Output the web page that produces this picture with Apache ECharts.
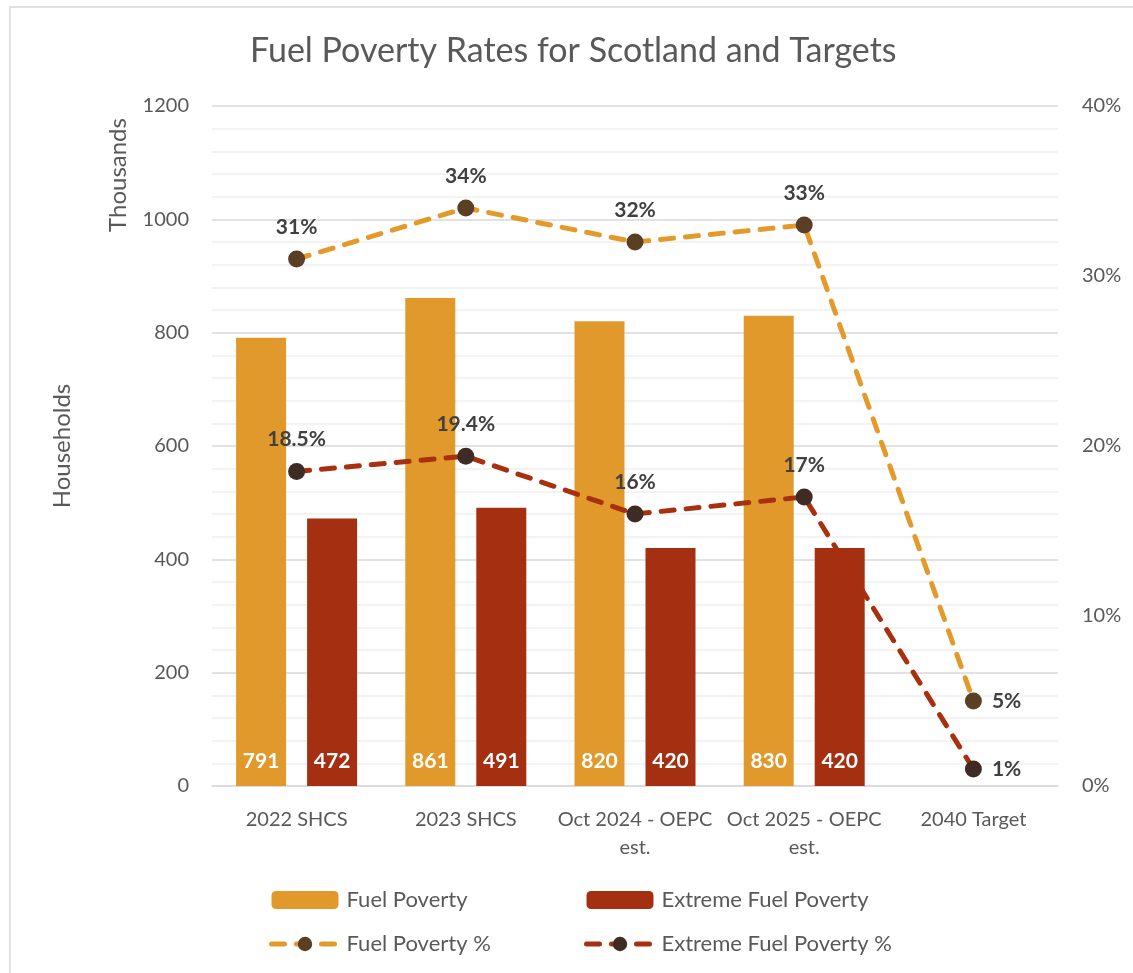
<!DOCTYPE html>
<html>
<head>
<meta charset="utf-8">
<script src="https://cdn.jsdelivr.net/npm/echarts@6/dist/echarts.min.js"></script>
<style>
  html, body { margin: 0; padding: 0; background: #fff; }
  #chart { width: 1133px; height: 973px; }
</style>
</head>
<body>
<div id="chart"></div>
<script>
// Categories and values (households in thousands, rates as fractions)
const categories = ['2022 SHCS', '2023 SHCS', 'Oct 2024 - OEPC\nest.', 'Oct 2025 - OEPC\nest.', '2040 Target'];
const fuelPoverty = [791, 861, 820, 830, null];
const extremeFuelPoverty = [472, 491, 420, 420, null];
const fuelPovertyRate = [0.31, 0.34, 0.32, 0.33, 0.05];
const extremeFuelPovertyRate = [0.185, 0.194, 0.16, 0.17, 0.01];
const leftTicks = [0, 200, 400, 600, 800, 1000, 1200];
const rightTicks = [0, 0.1, 0.2, 0.3, 0.4];

const FONT = 'Lato, "Open Sans", sans-serif';
const TEXT = '#595959';

function pct(v) {
  let s = (v * 100).toFixed(1);
  if (s.endsWith('.0')) s = s.slice(0, -2);
  return s + '%';
}

// Last point of each rate line gets its label on the right
function rateData(arr) {
  return arr.map((v, i) => i === arr.length - 1
    ? { value: v, label: { position: 'right', distance: 10 } }
    : v);
}

const legendText = { fontFamily: FONT, fontSize: 22, color: TEXT, padding: [0, 0, 0, 3] };
const FP_LINE = '#e39a2a';
const EFP_LINE = '#a9300f';

const chart = echarts.init(document.getElementById('chart'));
chart.setOption({
  animation: false,
  textStyle: { fontFamily: FONT },
  title: {
    text: 'Fuel Poverty Rates for Scotland and Targets',
    left: 250,
    top: 34,
    padding: 0,
    textStyle: { fontFamily: FONT, fontSize: 34, fontWeight: 'normal', color: TEXT }
  },
  grid: { left: 212, right: 75, top: 106, bottom: 187 },
  legend: [
    {
      data: [
        { name: 'Fuel Poverty' },
        { name: 'Fuel Poverty %', lineStyle: { width: 5 } }
      ],
      orient: 'vertical',
      left: 269, top: 889, padding: 0,
      itemWidth: 67, itemHeight: 18, itemGap: 22,
      textStyle: legendText
    },
    {
      data: [
        { name: 'Extreme Fuel Poverty' },
        { name: 'Extreme Fuel Poverty %', lineStyle: { width: 5 } }
      ],
      orient: 'vertical',
      left: 584, top: 889, padding: 0,
      itemWidth: 67, itemHeight: 18, itemGap: 22,
      textStyle: legendText
    }
  ],
  xAxis: {
    type: 'category',
    data: categories,
    boundaryGap: true,
    axisLine: { lineStyle: { color: '#d9d9d9', width: 1.5 } },
    axisTick: { show: false },
    axisLabel: { color: TEXT, fontSize: 20, margin: 20, lineHeight: 28, fontFamily: FONT, interval: 0 }
  },
  yAxis: [
    {
      type: 'value',
      min: leftTicks[0], max: leftTicks[leftTicks.length - 1], interval: 200,
      name: 'Households',
      nameLocation: 'middle',
      nameGap: 138,
      nameRotate: 90,
      nameTextStyle: { color: TEXT, fontSize: 24, fontFamily: FONT },
      axisLine: { show: false },
      axisTick: { show: false },
      axisLabel: { color: TEXT, fontSize: 20, margin: 23, fontFamily: FONT, formatter: v => String(v) },
      splitLine: { lineStyle: { color: '#d9d9d9', width: 1.5 } },
      minorTick: { show: false, splitNumber: 5 },
      minorSplitLine: { show: true, lineStyle: { color: '#f0f0f0', width: 1.5 } }
    },
    {
      type: 'value',
      min: rightTicks[0], max: rightTicks[rightTicks.length - 1], interval: 0.1,
      position: 'right',
      axisLine: { show: false },
      axisTick: { show: false },
      splitLine: { show: false },
      axisLabel: { color: TEXT, fontSize: 20, margin: 24, fontFamily: FONT, formatter: v => Math.round(v * 100) + '%' }
    }
  ],
  series: [
    {
      name: 'Fuel Poverty',
      type: 'bar',
      data: fuelPoverty,
      barWidth: 50,
      barGap: '42%',
      itemStyle: { color: '#e0992a' },
      label: {
        show: true, position: 'insideBottom', distance: 14,
        color: '#fff', fontWeight: 'bold', fontSize: 21, fontFamily: FONT
      },
      z: 2
    },
    {
      name: 'Extreme Fuel Poverty',
      type: 'bar',
      data: extremeFuelPoverty,
      barWidth: 50,
      itemStyle: { color: '#a52f11' },
      label: {
        show: true, position: 'insideBottom', distance: 14,
        color: '#fff', fontWeight: 'bold', fontSize: 21, fontFamily: FONT
      },
      z: 2
    },
    {
      name: 'Fuel Poverty %',
      type: 'line',
      yAxisIndex: 1,
      data: rateData(fuelPovertyRate),
      symbol: 'circle',
      symbolSize: 17,
      lineStyle: { color: FP_LINE, width: 5, type: [13, 12], cap: 'round' },
      itemStyle: { color: '#5b3f25' },
      label: {
        show: true, position: 'top', distance: 13,
        color: '#404040', fontWeight: 'bold', fontSize: 21, fontFamily: FONT,
        formatter: p => pct(p.value)
      },
      z: 5
    },
    {
      name: 'Extreme Fuel Poverty %',
      type: 'line',
      yAxisIndex: 1,
      data: rateData(extremeFuelPovertyRate),
      symbol: 'circle',
      symbolSize: 17,
      lineStyle: { color: EFP_LINE, width: 5, type: [13, 12], cap: 'round' },
      itemStyle: { color: '#3e2b23' },
      label: {
        show: true, position: 'top', distance: 13,
        color: '#404040', fontWeight: 'bold', fontSize: 21, fontFamily: FONT,
        formatter: p => pct(p.value)
      },
      z: 5
    }
  ],
  graphic: [
    {
      type: 'rect',
      shape: { x: 10, y: 7, width: 1200, height: 1100 },
      style: { fill: 'none', stroke: '#d9d9d9', lineWidth: 1.5 },
      silent: true
    },
    {
      type: 'text',
      x: 118, y: 175,
      rotation: Math.PI / 2,
      style: {
        text: 'Thousands', fill: TEXT, fontSize: 24, fontFamily: FONT,
        align: 'center', verticalAlign: 'middle'
      },
      silent: true
    }
  ]
});
</script>
</body>
</html>
